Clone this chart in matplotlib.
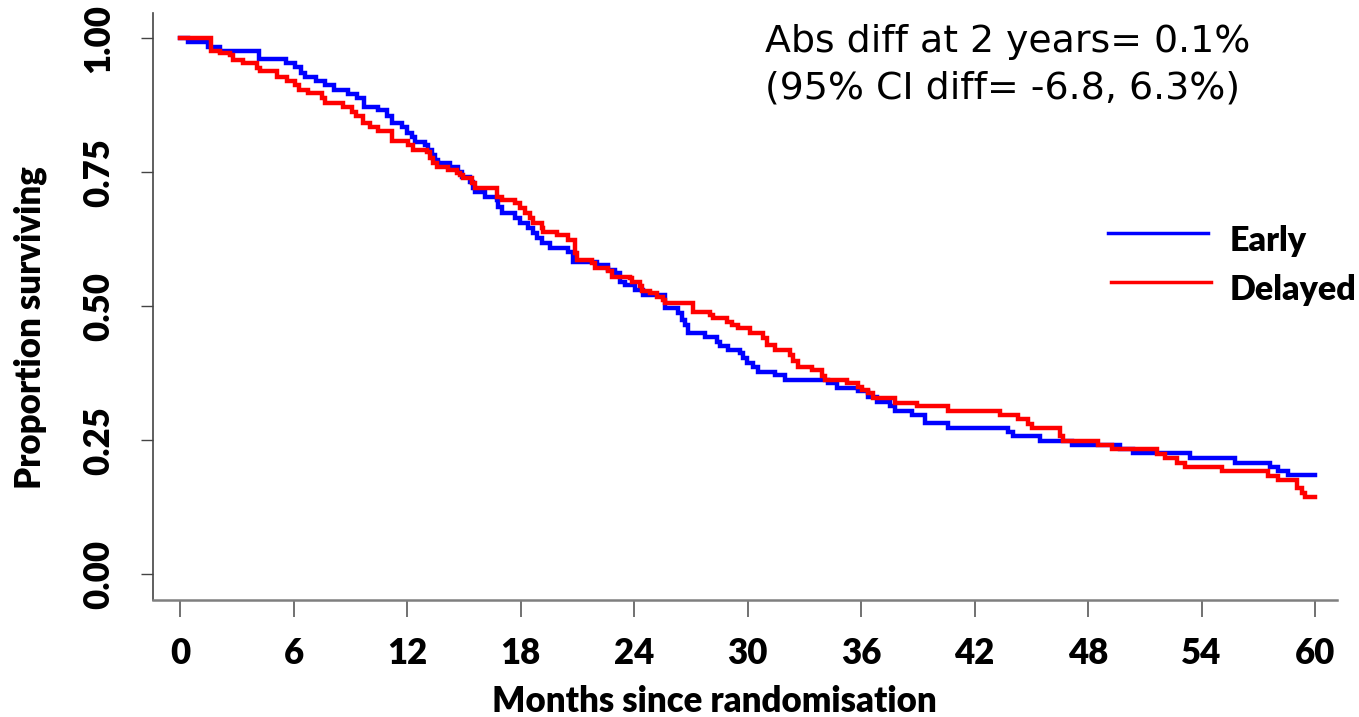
import matplotlib
matplotlib.use("Agg")
import matplotlib.pyplot as plt
from matplotlib.lines import Line2D

# ---- data ----
early_t = [0, 0.42, 1.48, 2.11, 4.17, 5.60, 6.08, 6.42, 6.61, 7.19, 7.66, 8.14, 8.88, 9.36, 9.73,
           10.48, 10.93, 11.19, 11.72, 11.98, 12.25, 12.42, 12.95, 13.13, 13.31, 13.48, 13.65,
           14.27, 14.71, 14.89, 15.33, 15.50, 15.59, 16.12, 16.74, 16.83, 17.01, 17.71, 17.97,
           18.41, 18.68, 18.86, 19.12, 19.56, 20.53, 20.76, 22.03, 22.64, 23.00, 23.26, 23.52,
           24.05, 24.49, 25.64, 26.34, 26.52, 26.70, 26.87, 27.75, 28.37, 28.55, 28.98, 29.60,
           29.78, 29.96, 30.31, 30.57, 31.45, 31.98, 34.26, 34.73, 35.86, 36.39, 36.83, 37.53,
           37.80, 38.68, 39.38, 40.61, 43.79, 44.05, 45.46, 47.14, 49.69, 50.39, 53.39, 55.77,
           57.62, 58.06, 58.59, 60]
early_s = [1.0, 0.992, 0.984, 0.976, 0.961, 0.953, 0.946, 0.936, 0.928, 0.920, 0.912, 0.903, 0.896,
           0.888, 0.872, 0.866, 0.854, 0.841, 0.835, 0.823, 0.816, 0.807, 0.801, 0.792, 0.782,
           0.773, 0.767, 0.760, 0.751, 0.742, 0.732, 0.720, 0.714, 0.704, 0.698, 0.686, 0.673,
           0.664, 0.656, 0.646, 0.636, 0.627, 0.618, 0.608, 0.602, 0.583, 0.577, 0.568, 0.562,
           0.546, 0.540, 0.530, 0.521, 0.496, 0.487, 0.474, 0.465, 0.450, 0.443, 0.434, 0.425,
           0.418, 0.412, 0.403, 0.394, 0.387, 0.378, 0.372, 0.362, 0.357, 0.347, 0.341, 0.331,
           0.322, 0.313, 0.305, 0.297, 0.282, 0.272, 0.265, 0.257, 0.249, 0.241, 0.234, 0.226,
           0.216, 0.208, 0.201, 0.193, 0.185, 0.185]

delayed_t = [0, 1.62, 2.11, 2.64, 2.80, 3.33, 4.07, 4.23, 5.13, 5.66, 6.08, 6.29, 6.77, 7.51, 7.67,
             8.62, 9.09, 9.30, 9.66, 10.04, 10.48, 11.19, 12.07, 12.33, 13.04, 13.22, 13.39, 13.57,
             14.18, 14.63, 14.80, 14.98, 15.42, 15.59, 16.74, 17.01, 17.71, 17.97, 18.24, 18.50,
             18.68, 19.12, 19.21, 19.91, 20.53, 20.88, 20.97, 21.76, 21.94, 22.64, 22.82, 23.79,
             23.88, 24.32, 24.41, 24.85, 25.20, 25.55, 25.64, 27.13, 28.02, 28.19, 28.90, 29.16,
             29.51, 30.13, 30.83, 31.01, 31.45, 32.24, 32.42, 32.68, 33.39, 33.92, 34.10, 35.24,
             35.86, 36.03, 36.39, 36.65, 37.80, 38.94, 40.61, 43.35, 44.31, 44.84, 45.02, 46.52,
             46.69, 48.54, 49.25, 51.63, 52.07, 52.69, 53.13, 55.07, 57.53, 58.06, 59.03, 59.29,
             59.47, 60]
delayed_s = [1.0, 0.977, 0.973, 0.969, 0.959, 0.953, 0.944, 0.938, 0.928, 0.920, 0.912, 0.904, 0.897,
             0.888, 0.880, 0.872, 0.863, 0.854, 0.841, 0.835, 0.826, 0.809, 0.801, 0.792, 0.788,
             0.776, 0.767, 0.760, 0.754, 0.749, 0.745, 0.739, 0.729, 0.720, 0.704, 0.698, 0.692,
             0.683, 0.674, 0.664, 0.656, 0.646, 0.639, 0.633, 0.624, 0.599, 0.586, 0.580, 0.571,
             0.565, 0.555, 0.552, 0.546, 0.537, 0.529, 0.524, 0.518, 0.512, 0.506, 0.490, 0.484,
             0.478, 0.471, 0.465, 0.459, 0.450, 0.440, 0.428, 0.418, 0.409, 0.397, 0.387, 0.381,
             0.369, 0.362, 0.356, 0.350, 0.344, 0.338, 0.328, 0.320, 0.313, 0.305, 0.297, 0.289,
             0.280, 0.272, 0.257, 0.249, 0.241, 0.233, 0.224, 0.216, 0.208, 0.201, 0.193, 0.183,
             0.176, 0.160, 0.151, 0.145, 0.145]

x_ticks = [0, 6, 12, 18, 24, 30, 36, 42, 48, 54, 60]
y_ticks = [0.0, 0.25, 0.50, 0.75, 1.00]
y_tick_labels = ["0.00", "0.25", "0.50", "0.75", "1.00"]
series_names = ["Early", "Delayed"]
series_colors = ["#0000FF", "#FF0000"]
annotation = ["Abs diff at 2 years= 0.1%", "(95% CI diff= -6.8, 6.3%)"]
x_label = "Months since randomisation"
y_label = "Proportion surviving"

W, H = 1359, 717
DPI = 100
fig = plt.figure(figsize=(W / DPI, H / DPI), dpi=DPI)

def fx(px):
    return px / W

def fy(py):
    return 1 - py / H

ax = fig.add_axes([fx(153), fy(600), fx(1337) - fx(153), fy(13) - fy(600)])
ax.set_xlim(-1.43, 61.16)
ax.set_ylim(-0.048, 1.047)

ax.step(early_t, early_s, where="post", color=series_colors[0], lw=3.2, solid_joinstyle="miter")
ax.step(delayed_t, delayed_s, where="post", color=series_colors[1], lw=3.2, solid_joinstyle="miter")

for s in ["top", "right"]:
    ax.spines[s].set_visible(False)
ax.spines["left"].set_color("#444444")
ax.spines["left"].set_linewidth(1.2)
ax.spines["bottom"].set_color("#7f7f7f")
ax.spines["bottom"].set_linewidth(1.8)

tick_font = dict(family="Lato", weight="heavy", size=25)
ax.set_xticks(x_ticks)
ax.set_xticklabels([str(v) for v in x_ticks], fontdict=tick_font)
ax.set_yticks(y_ticks)
ax.set_yticklabels(y_tick_labels, fontdict=tick_font, rotation=90, va="center")
ax.tick_params(axis="x", length=12.5, width=1.3, color="#666666", pad=14)
ax.tick_params(axis="y", length=9, width=1.0, color="#444444", pad=18)

fig.text(fx(714), fy(701), x_label, ha="center", va="center",
         family="Lato", weight="heavy", size=25)
fig.text(fx(30), fy(328), y_label, ha="center", va="center", rotation=90,
         family="Lato", weight="heavy", size=25)

fig.text(fx(765), fy(52), annotation[0], ha="left", va="baseline",
         family="DejaVu Sans", size=27.3)
fig.text(fx(765), fy(98), annotation[1], ha="left", va="baseline",
         family="DejaVu Sans", size=27.3)

# legend
leg_y = [233, 282]
leg_x0 = [1108, 1111]
for i, name in enumerate(series_names):
    fig.add_artist(Line2D([fx(leg_x0[i]), fx(leg_x0[i] + 100)], [fy(leg_y[i]), fy(leg_y[i])],
                          transform=fig.transFigure, color=series_colors[i], lw=2.5))
    fig.text(fx(1230), fy(leg_y[i] + 8), name, ha="left", va="center",
             family="Lato", weight="heavy", size=24.5)

fig.savefig("out.png", dpi=DPI)
